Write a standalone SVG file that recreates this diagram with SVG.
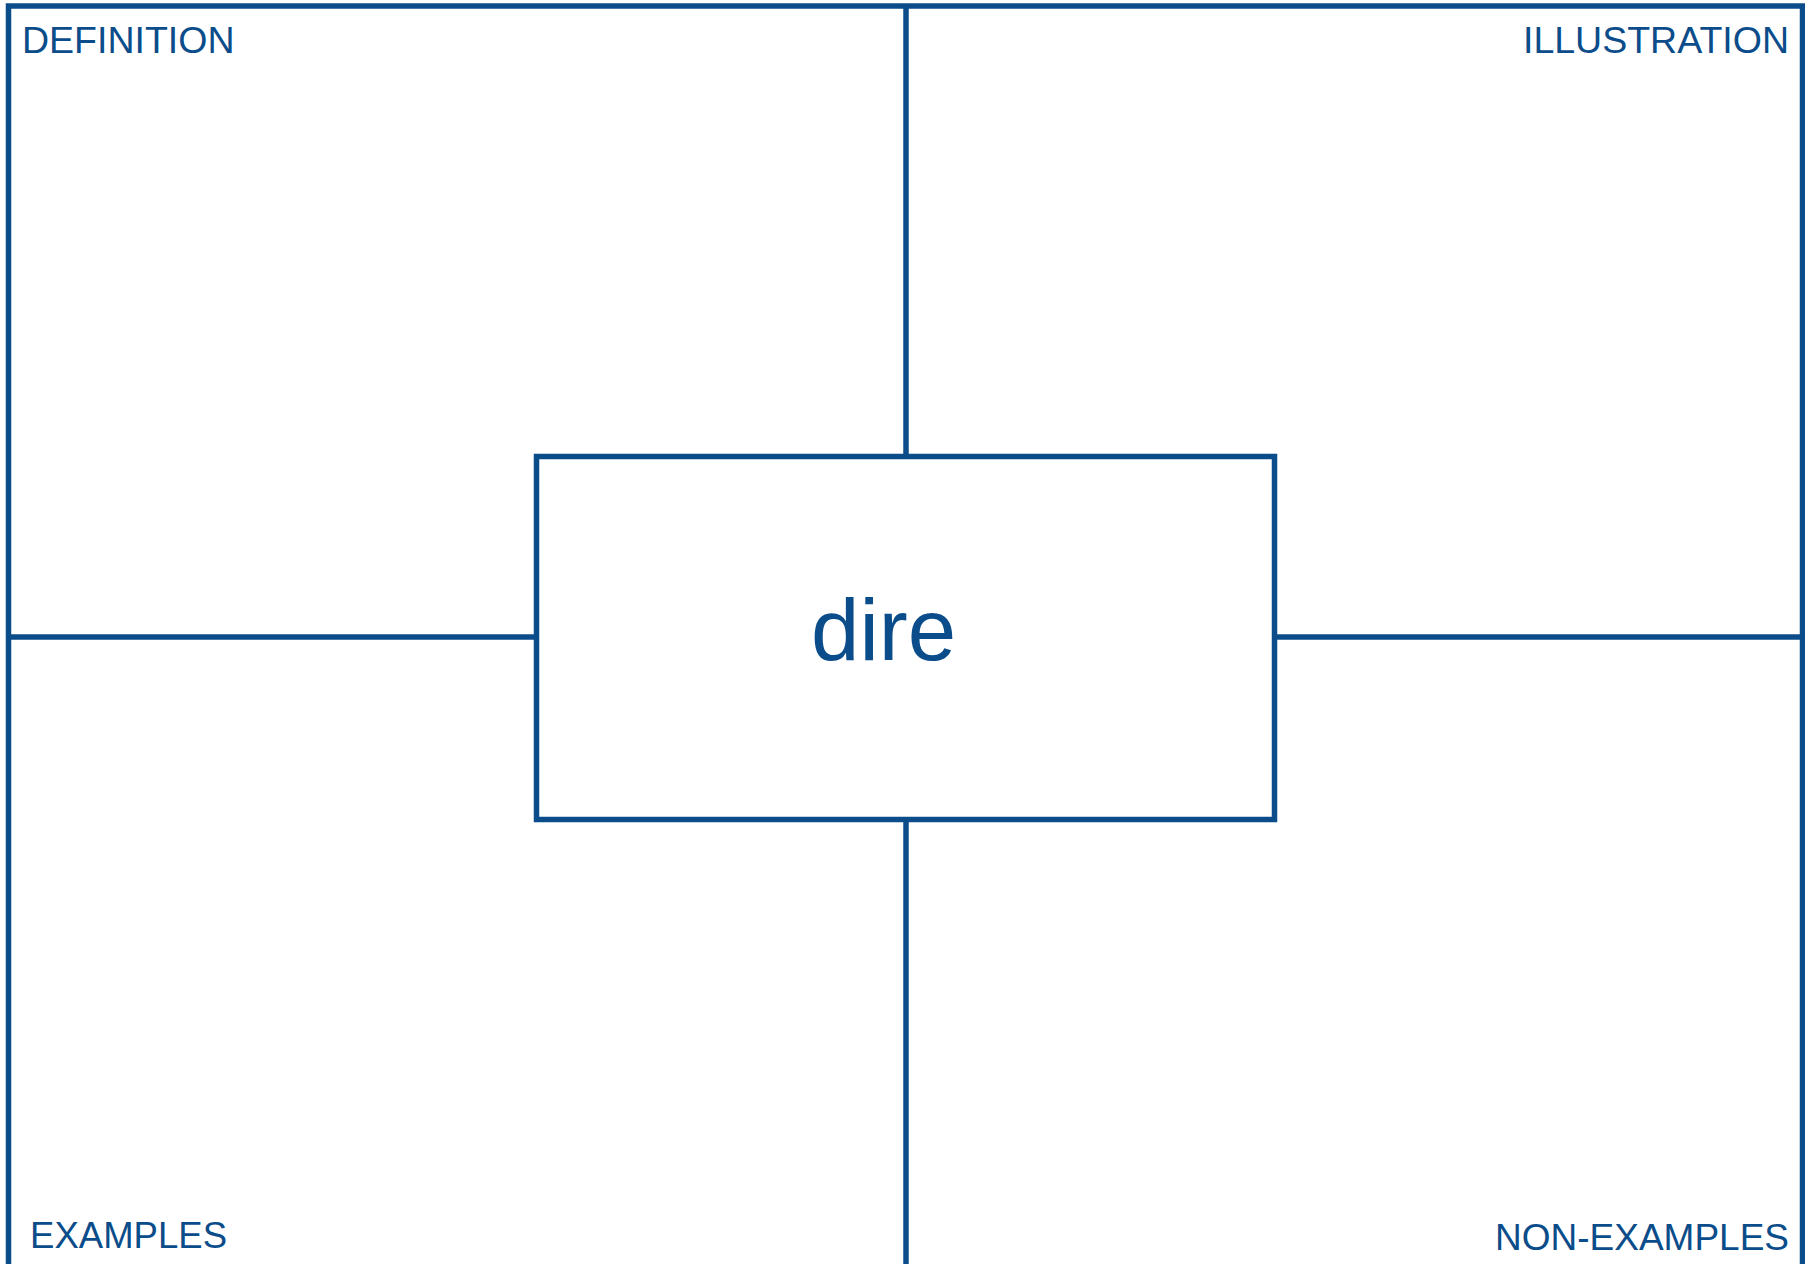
<svg xmlns="http://www.w3.org/2000/svg" width="1805" height="1264" viewBox="0 0 1805 1264">
<style>
.ln{stroke:#0b4c8a;stroke-width:5.5;fill:none}
.lbl{font-family:"Liberation Sans",Arial,sans-serif;font-size:37.5px;fill:#0b4c8a}
.word{font-family:"Liberation Sans",Arial,sans-serif;font-size:87px;fill:#0b4c8a}
</style>
<rect width="1805" height="1264" fill="#ffffff"/>
<g id="connectors">
<path class="ln" d="M8.5,1264 V6 H1802.5 V1264"/>
<line class="ln" x1="906" y1="6" x2="906" y2="456.5"/>
<line class="ln" x1="906" y1="819.5" x2="906" y2="1264"/>
<line class="ln" x1="8.5" y1="637" x2="536.5" y2="637"/>
<line class="ln" x1="1274.5" y1="637" x2="1802.5" y2="637"/>
</g>
<g id="definition"><text class="lbl" x="22" y="53">DEFINITION</text></g>
<g id="illustration"><text class="lbl" x="1789" y="53" text-anchor="end">ILLUSTRATION</text></g>
<g id="examples"><text class="lbl" x="30" y="1248" style="font-size:36.5px" textLength="197">EXAMPLES</text></g>
<g id="non-examples"><text class="lbl" x="1789" y="1250" text-anchor="end" style="font-size:37px">NON-EXAMPLES</text></g>
<g id="center">
<rect class="ln" x="536.5" y="456.5" width="738" height="363"/>
<text class="word" x="811" y="660">dire</text>
</g>
</svg>
